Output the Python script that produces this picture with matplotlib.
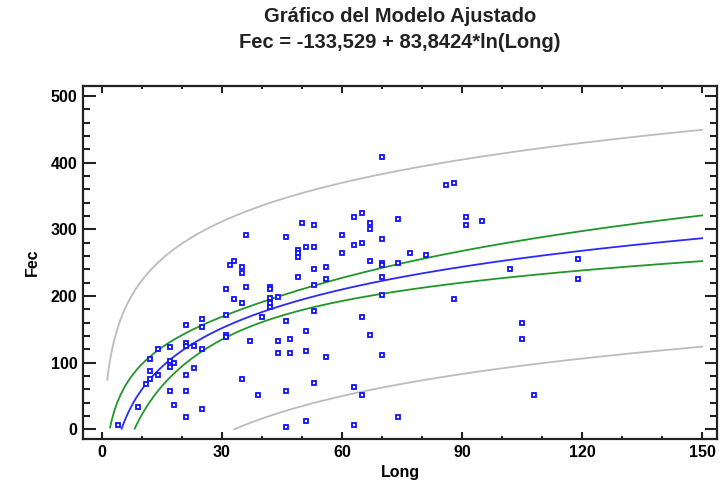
import numpy as np
import matplotlib
matplotlib.use("Agg")
import matplotlib.pyplot as plt
from matplotlib.ticker import MultipleLocator

# ---- data ----
long_vals = [4, 9, 11, 12, 12, 12, 14, 14, 17, 17, 17, 18, 17, 18, 21, 21, 21, 21, 21, 21,
             23, 23, 25, 25, 25, 25, 31, 31, 31, 31, 32, 33, 33, 35, 35, 35, 36, 36, 37, 35,
             39, 40, 42, 42, 42, 42, 42, 44, 46, 46, 44, 44, 47, 47, 46, 46, 49, 49, 49, 49,
             50, 51, 51, 51, 51, 53, 53, 53, 53, 53, 53, 56, 56, 56, 60, 60, 63, 63, 63, 63,
             65, 65, 65, 65, 67, 67, 67, 67, 70, 70, 70, 70, 70, 70, 70, 74, 74, 74, 77, 81,
             86, 88, 88, 91, 91, 95, 102, 105, 105, 108, 119, 119]
fec_vals = [6, 33, 68, 75, 87, 105, 81, 120, 123, 103, 93, 100, 57, 36, 157, 130, 125, 81, 57, 18,
            125, 92, 165, 154, 120, 30, 211, 172, 142, 139, 247, 253, 196, 244, 235, 190, 292, 214, 132, 75,
            51, 169, 214, 210, 197, 190, 184, 199, 289, 162, 132, 115, 135, 115, 57, 3, 269, 264, 259, 229,
            310, 274, 147, 117, 12, 307, 274, 241, 217, 177, 70, 244, 226, 108, 292, 265, 319, 277, 63, 6,
            325, 280, 169, 51, 310, 301, 253, 142, 409, 286, 250, 247, 229, 201, 111, 316, 250, 18, 265, 262,
            367, 370, 196, 319, 307, 313, 241, 160, 135, 51, 256, 226]

intercept = -133.529
slope = 83.8424
t_crit = 1.98
x_start, x_end = 1.4, 150

title_lines = ["Gráfico del Modelo Ajustado", "Fec = -133,529 + 83,8424*ln(Long)"]

# ---- statistics for bands ----
x = np.array(long_vals, float)
y = np.array(fec_vals, float)
lx = np.log(x)
n = len(x)
resid = y - (intercept + slope * lx)
s = np.sqrt(np.sum(resid ** 2) / (n - 2))
mlx = lx.mean()
sxx = np.sum((lx - mlx) ** 2)

xg = np.linspace(x_start, x_end, 1500)
lg = np.log(xg)
fit = intercept + slope * lg
q = 1.0 / n + (lg - mlx) ** 2 / sxx
ci = t_crit * s * np.sqrt(q)
pi = t_crit * s * np.sqrt(1 + q)

def pos(a):
    a = a.copy()
    a[a < 0] = np.nan
    return a

plt.rcParams['font.family'] = ['Liberation Sans', 'DejaVu Sans']
fig = plt.figure(figsize=(7.2, 5.0), dpi=100)
ax = fig.add_axes([83 / 720, 61 / 500, 634 / 720, 353 / 500])

ax.plot(xg, pos(fit + pi), color='#bcbcbc', lw=1.3)
ax.plot(xg, pos(fit - pi), color='#bcbcbc', lw=1.3)
ax.plot(xg, pos(fit + ci), color='#22962a', lw=1.3)
ax.plot(xg, pos(fit - ci), color='#22962a', lw=1.3)
ax.plot(xg, pos(fit), color='#2a2aff', lw=1.3)
ax.plot(x, y, ls='none', marker='s', ms=3.2, mfc='white', mec='#1010ff', mew=1.3)

ax.set_xlim(-4.67, 153.7)
ax.set_ylim(-14.6, 515)
ax.xaxis.set_major_locator(MultipleLocator(30))
ax.xaxis.set_minor_locator(MultipleLocator(10))
ax.yaxis.set_major_locator(MultipleLocator(100))
ax.yaxis.set_minor_locator(MultipleLocator(20))
ax.tick_params(axis='both', which='both', direction='in', top=True, right=True,
               width=1.5, color='#222222')
ax.tick_params(axis='x', which='major', length=5, pad=4)
ax.tick_params(axis='x', which='minor', length=2.2)
ax.tick_params(axis='y', which='major', length=9, pad=4)
ax.tick_params(axis='y', which='minor', length=4.8)
ax.tick_params(labelsize=11.5)
for lab in ax.get_xticklabels() + ax.get_yticklabels():
    lab.set_fontweight('bold')
for sp in ax.spines.values():
    sp.set_linewidth(1.6)
    sp.set_color('#222222')

ax.set_xlabel('Long', fontsize=11.5, fontweight='bold', labelpad=4)
ax.set_ylabel('Fec', fontsize=11.5, fontweight='bold', labelpad=8)

fig.text(400 / 720, 1 - 17 / 500, title_lines[0], ha='center', va='center',
         fontsize=14.5, fontweight='bold', color='#222222')
fig.text(400 / 720, 1 - 43 / 500, title_lines[1], ha='center', va='center',
         fontsize=14.5, fontweight='bold', color='#222222')

fig.savefig('out.png', dpi=100)
